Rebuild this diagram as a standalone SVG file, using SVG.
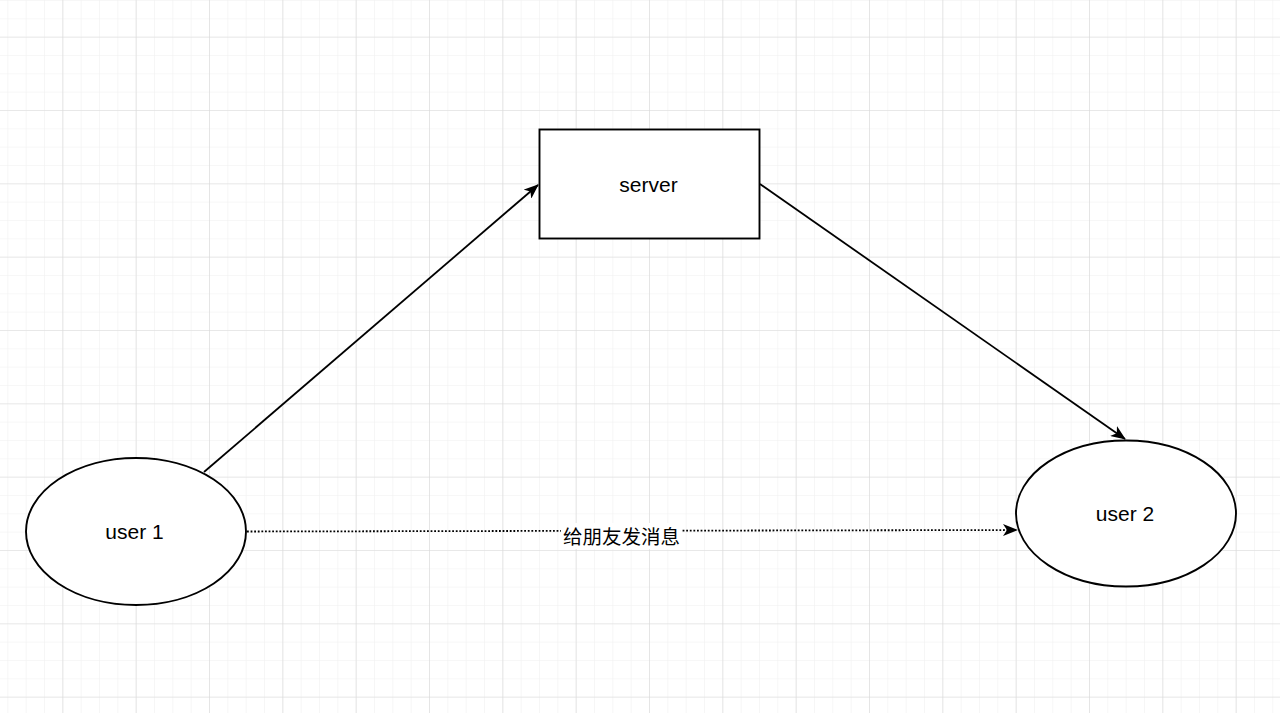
<svg xmlns="http://www.w3.org/2000/svg" width="1280" height="713" viewBox="0 0 1280 713">
<style>
.shape{fill:#ffffff;stroke:#000000;stroke-width:1.9}
.edge{fill:none;stroke:#000000;stroke-width:1.8}
.dot{stroke-dasharray:1.8 1.8}
.lbl{font-family:"Liberation Sans",Arial,sans-serif;font-size:21px;fill:#000000;text-anchor:middle}
.cjk{font-family:"Noto Sans CJK SC","Liberation Sans",sans-serif;font-size:19.5px;fill:#000000;text-anchor:middle}
</style>
<defs>
<pattern id="minor" width="18.333" height="18.333" patternUnits="userSpaceOnUse" x="7.333" y="0">
<path d="M0 0H18.333M0 0V18.333" fill="none" stroke="#f0f0f0" stroke-width="1.2"/>
</pattern>
<pattern id="major" width="73.333" height="73.333" patternUnits="userSpaceOnUse" x="62.333" y="36.667">
<path d="M0 0H73.333M0 0V73.333" fill="none" stroke="#d9d9d9" stroke-width="1.2"/>
</pattern>
<marker id="arrow" viewBox="0 0 15 12" refX="14" refY="6" markerWidth="15" markerHeight="12" markerUnits="userSpaceOnUse" orient="auto">
<path d="M0 0L15 6L0 12L4 6Z" fill="#000000"/>
</marker>
</defs>
<rect width="1280" height="713" fill="#ffffff"/>
<rect width="1280" height="713" fill="url(#minor)"/>
<rect width="1280" height="713" fill="url(#major)"/>
<g id="connectors">
<line class="edge" x1="204" y1="472" x2="538" y2="185" marker-end="url(#arrow)"/>
<line class="edge" x1="760" y1="184" x2="1125" y2="439" marker-end="url(#arrow)"/>
<line class="edge dot" x1="247" y1="531.5" x2="1017" y2="530" marker-end="url(#arrow)"/>
<rect x="561" y="523" width="121" height="26" fill="#ffffff"/>
<text class="cjk" x="621.5" y="544">给朋友发消息</text>
</g>
<g id="server">
<rect class="shape" x="539.5" y="129.5" width="220" height="109"/>
<text class="lbl" x="648.5" y="191.5">server</text>
</g>
<g id="user1">
<ellipse class="shape" cx="136" cy="531.5" rx="110" ry="73.5"/>
<text class="lbl" x="134.5" y="539.3">user 1</text>
</g>
<g id="user2">
<ellipse class="shape" cx="1126" cy="513.5" rx="110" ry="73"/>
<text class="lbl" x="1125" y="521">user 2</text>
</g>
</svg>
